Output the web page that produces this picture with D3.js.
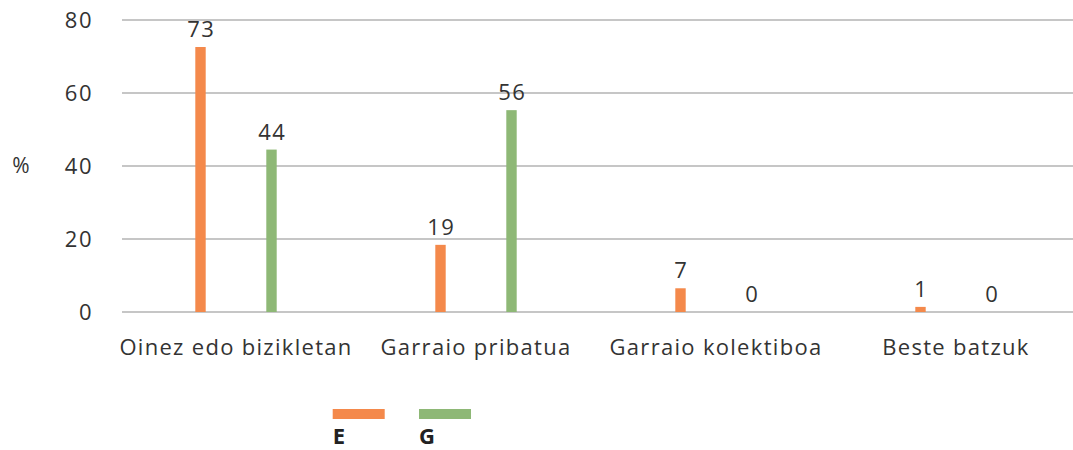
<!DOCTYPE html>
<html>
<head>
<meta charset="utf-8">
<script src="https://cdn.jsdelivr.net/npm/d3@7"></script>
<style>
    body { margin: 0; background: #fff; }
    text { font-family: "Open Sans", "Lato", sans-serif; fill: #333; }
</style>
</head>
<body>
<div id="chart"></div>
<script>
// data
const categories = ["Oinez edo bizikletan", "Garraio pribatua", "Garraio kolektiboa", "Beste batzuk"];
const seriesNames = ["E", "G"];
const valuesE = [72.6, 18.4, 6.5, 1.4];
const valuesG = [44.5, 55.3, 0, 0];
const labelsE = ["73", "19", "7", "1"];
const labelsG = ["44", "56", "0", "0"];
const yTicks = [0, 20, 40, 60, 80];
const colors = ["#f4894b", "#8eb876"];

const width = 1073, height = 450;

const svg = d3.select("#chart").append("svg")
    .attr("width", width)
    .attr("height", height);

// scales
const x = d3.scaleBand()
    .domain(categories)
    .range([116, 1076]);

const xInner = d3.scalePoint()
    .domain(seriesNames)
    .range([-35.5, 35.5]);

const y = d3.scaleLinear()
    .domain([0, 80])
    .range([312, 20]);

const barW = 10.4;

// gridlines
svg.append("g")
    .selectAll("line")
    .data(yTicks)
    .enter()
    .append("line")
    .attr("x1", 122)
    .attr("x2", 1073)
    .attr("y1", d => y(d))
    .attr("y2", d => y(d))
    .attr("stroke", "#b3b3b3")
    .attr("stroke-width", 1.3);

// y axis labels
svg.append("g")
    .selectAll("text")
    .data(yTicks)
    .enter()
    .append("text")
    .attr("x", 93)
    .attr("y", d => y(d))
    .attr("dy", "0.35em")
    .attr("text-anchor", "end")
    .style("font-size", "22px")
    .style("letter-spacing", "1.5px")
    .text(d => d);

svg.append("text")
    .attr("x", 21)
    .attr("y", 166)
    .attr("dy", "0.35em")
    .attr("text-anchor", "middle")
    .style("font-size", "21px")
    .text("%");

// build rows for bars
const rows = [];
categories.forEach((c, i) => {
    rows.push({cat: c, s: "E", v: valuesE[i], label: labelsE[i], color: colors[0]});
    rows.push({cat: c, s: "G", v: valuesG[i], label: labelsG[i], color: colors[1]});
});

const cx = d => x(d.cat) + x.bandwidth() / 2 + xInner(d.s);

svg.append("g")
    .selectAll("rect")
    .data(rows.filter(d => d.v > 0))
    .enter()
    .append("rect")
    .attr("x", d => cx(d) - barW / 2)
    .attr("y", d => y(d.v))
    .attr("width", barW)
    .attr("height", d => y(0) - y(d.v))
    .attr("fill", d => d.color);

// value labels
svg.append("g")
    .selectAll("text")
    .data(rows)
    .enter()
    .append("text")
    .attr("x", d => cx(d) + 0.75)
    .attr("y", d => y(d.v) - 10)
    .attr("text-anchor", "middle")
    .style("font-size", "22px")
    .style("letter-spacing", "1.5px")
    .text(d => d.label);

// category labels
svg.append("g")
    .selectAll("text")
    .data(categories)
    .enter()
    .append("text")
    .attr("x", d => x(d) + x.bandwidth() / 2)
    .attr("y", 347)
    .attr("dy", "0.35em")
    .attr("text-anchor", "middle")
    .style("font-size", "22px")
    .style("letter-spacing", "1.3px")
    .text(d => d);

// legend
const legendX = [332.7, 419];
const legend = svg.append("g")
    .selectAll("g")
    .data(seriesNames)
    .enter()
    .append("g");

legend.append("rect")
    .attr("x", (d, i) => legendX[i])
    .attr("y", 409)
    .attr("width", 52)
    .attr("height", 10)
    .attr("fill", (d, i) => colors[i]);

legend.append("text")
    .attr("x", (d, i) => legendX[i])
    .attr("y", 444)
    .style("font-size", "22px")
    .style("font-weight", "bold")
    .style("fill", "#222")
    .text(d => d);
</script>
</body>
</html>
